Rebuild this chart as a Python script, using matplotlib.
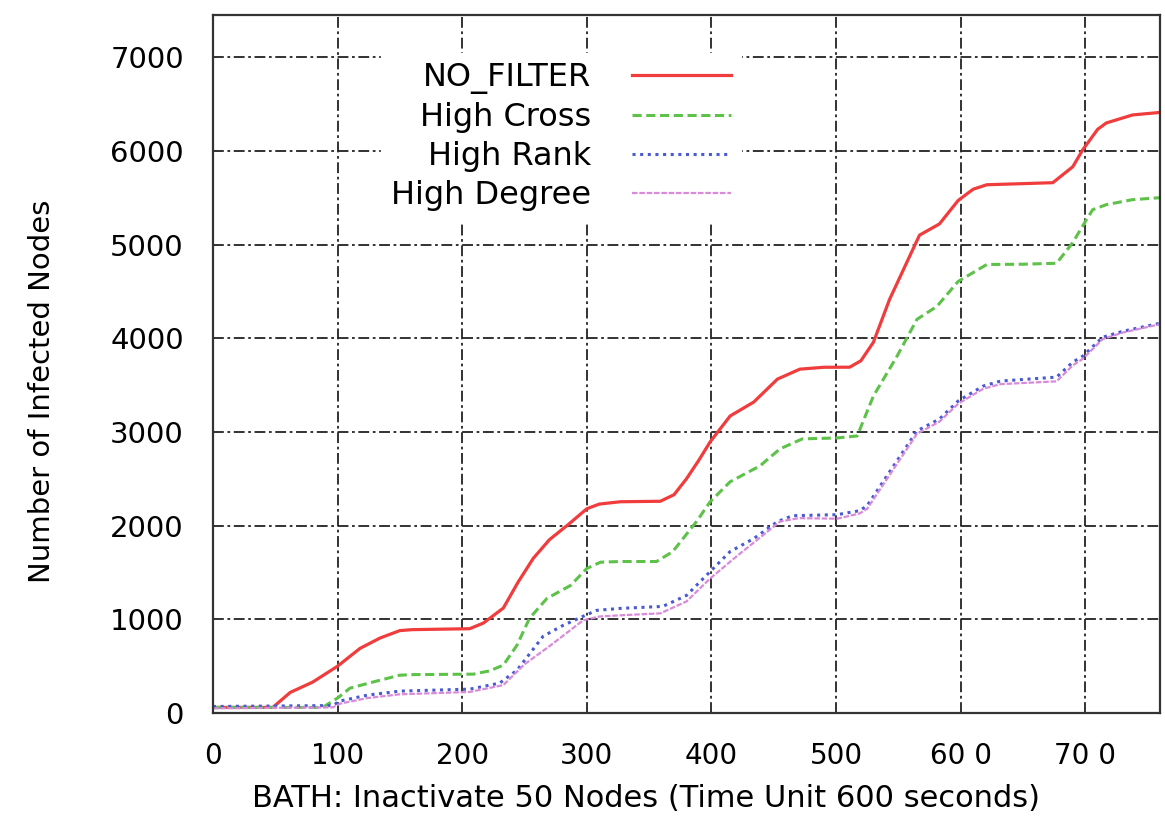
import numpy as np
import matplotlib
matplotlib.use("Agg")
import matplotlib.pyplot as plt

# values
nofilter_x = [0, 45, 48, 62, 80, 100, 118, 134, 150, 160, 206, 217, 233, 245, 257, 270, 285,
              300, 310, 327, 359, 370, 380, 390, 399, 415, 434, 453, 471, 490, 511, 520, 530,
              543, 559, 567, 583, 598, 610, 621, 650, 674, 690, 698, 710, 717, 738, 760]
nofilter_y = [60, 60, 60, 220, 330, 500, 690, 800, 880, 890, 900, 960, 1120, 1400, 1650, 1850, 2010,
              2180, 2230, 2255, 2260, 2330, 2500, 2700, 2894, 3170, 3319, 3564, 3670, 3690, 3691, 3760, 3957,
              4415, 4872, 5100, 5220, 5470, 5590, 5638, 5650, 5660, 5830, 6011, 6230, 6298, 6383, 6410]

cross_x = [0, 88, 100, 110, 131, 150, 160, 209, 222, 233, 244, 254, 268, 287, 300, 311, 327,
           356, 369, 388, 399, 415, 439, 455, 473, 501, 517, 530, 549, 565, 581, 598, 621,
           650, 677, 690, 701, 706, 717, 738, 760]
cross_y = [60, 60, 160, 266, 340, 404, 410, 415, 450, 511, 724, 1011, 1223, 1362, 1543, 1610, 1617,
           1617, 1723, 2043, 2255, 2468, 2638, 2819, 2926, 2936, 2957, 3383, 3809, 4202, 4340, 4606, 4787,
           4790, 4800, 5021, 5266, 5372, 5426, 5479, 5500]

rank_x = [0, 96, 102, 124, 150, 206, 230, 244, 265, 281, 297, 308, 327, 361, 380, 399, 415,
          434, 453, 465, 501, 519, 525, 543, 565, 583, 598, 618, 632, 677, 690, 698, 714, 730, 760]
rank_y = [70, 80, 128, 191, 234, 255, 319, 457, 820, 936, 1032, 1096, 1117, 1138, 1255, 1510, 1723,
          1862, 2043, 2106, 2117, 2160, 2213, 2574, 3011, 3138, 3330, 3489, 3543, 3585, 3745, 3809, 4011, 4074, 4160]

degree_x = [0, 96, 102, 124, 150, 206, 233, 250, 270, 297, 310, 327, 359, 380, 399, 421, 441,
            455, 470, 501, 519, 525, 543, 565, 583, 598, 618, 632, 677, 690, 698, 714, 730, 760]
degree_y = [50, 60, 100, 160, 200, 225, 298, 520, 713, 989, 1030, 1043, 1064, 1191, 1436, 1681, 1894,
            2043, 2080, 2074, 2130, 2180, 2540, 2980, 3110, 3300, 3460, 3510, 3540, 3710, 3780, 3990, 4060, 4150]

xticks = [0, 100, 200, 300, 400, 500, 600, 700]
xtick_labels = ["0", "100", "200", "300", "400", "500", "60 0", "70 0"]
yticks = [0, 1000, 2000, 3000, 4000, 5000, 6000, 7000]

plt.rcParams['font.family'] = ['DejaVu Sans']

fig = plt.figure(figsize=(11.65, 8.27), dpi=100)
ax = fig.add_axes([0.1828, 0.1378, 0.8129, 0.8441])

ax.plot(nofilter_x, nofilter_y, color='#f03c3c', lw=2.3, ls='-', label='NO_FILTER')
ax.plot(cross_x, cross_y, color='#5ec24a', lw=2.2, ls=(0, (3, 1.5)), label='High Cross')
ax.plot(rank_x, rank_y, color='#4a5ad0', lw=2.2, ls=(0, (1, 1.5)), label='High Rank')
ax.plot(degree_x, degree_y, color='#d98bd9', lw=1.6, ls=(0, (2.5, 0.8)), label='High Degree')

ax.set_xlim(0, 760)
ax.set_ylim(0, 7450)
ax.set_xticks(xticks)
ax.set_xticklabels(xtick_labels)
ax.set_yticks(yticks)
ax.tick_params(length=0)
ax.tick_params(axis='x', labelsize=20, pad=21)
ax.tick_params(axis='y', labelsize=21, pad=21)

ax.grid(True, color='#222222', ls=(0, (6, 2, 1.5, 2)), lw=1.3)
ax.set_axisbelow(True)
for sp in ax.spines.values():
    sp.set_linewidth(1.6)
    sp.set_color('#333333')

# labels sit a bit off-centre in the original
ax.set_xlabel('BATH: Inactivate 50 Nodes (Time Unit 600 seconds)', fontsize=22)
ax.xaxis.set_label_coords(0.457, -0.102)
ax.set_ylabel('Number of Infected Nodes', fontsize=21)
ax.yaxis.set_label_coords(-0.166, 0.461)

leg = ax.legend(loc='upper right', bbox_to_anchor=(0.5575, 0.946), markerfirst=False,
                fontsize=23, handlelength=3.1, handletextpad=1.3, labelspacing=0.25,
                frameon=True, fancybox=False, borderaxespad=0, borderpad=0.3)
leg.get_frame().set_facecolor('white')
leg.get_frame().set_edgecolor('white')
leg.get_frame().set_alpha(1)

fig.savefig('out.png', dpi=100)
